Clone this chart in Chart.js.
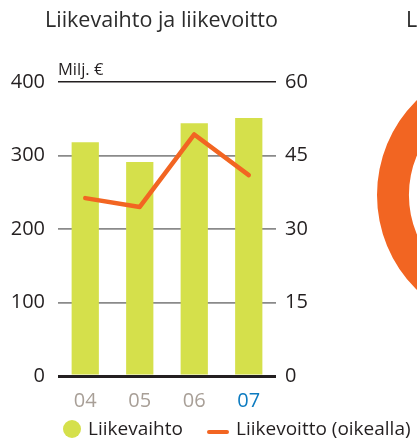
<!DOCTYPE html>
<html>
<head>
<meta charset="utf-8">
<script src="https://cdn.jsdelivr.net/npm/chart.js@4.4.1/dist/chart.umd.min.js"></script>
<style>
  html, body { margin: 0; padding: 0; width: 417px; height: 445px; overflow: hidden; background: #fff; }
  #main { position: absolute; left: 0; top: 0; }
  #ring { position: absolute; left: 377px; top: 62px; }
</style>
</head>
<body>
<canvas id="main" width="417" height="445"></canvas>
<canvas id="ring" width="266" height="266"></canvas>
<script>
// ---- Data ----
const categories = ['04', '05', '06', '07'];
const liikevaihto = [318, 291, 344, 351];      // left axis, Milj. €
const liikevoitto = [36.3, 34.5, 49.3, 41.0];  // right axis, Milj. €
const leftTicks = [0, 100, 200, 300, 400];
const rightTicks = [0, 15, 30, 45, 60];
const seriesLabels = ['Liikevaihto', 'Liikevoitto (oikealla)'];
const titleText = 'Liikevaihto ja liikevoitto';
const unitText = 'Milj. €';
const ringValues = [100];

const FONT = "'Open Sans', 'Noto Sans', sans-serif";
const GREEN = '#d5e04b';
const ORANGE = '#f26522';
const DARK = '#231f20';
const TICKGRAY = '#a89f97';
const BLUE = '#0c7bc0';

const overlay = {
  id: 'overlay',
  afterDraw(chart) {
    const ctx = chart.ctx;
    const area = chart.chartArea;
    ctx.save();
    ctx.fillStyle = '#2b2b2b';
    ctx.font = '21.5px ' + FONT;
    ctx.textBaseline = 'alphabetic';
    ctx.textAlign = 'left';
    ctx.fillText(titleText, 45, 26.5);
    ctx.fillText('L', 406, 26.5);

    ctx.fillStyle = DARK;
    ctx.font = '16.5px ' + FONT;
    ctx.fillText(unitText, area.left, area.top - 7);

    // legend
    const ly = 429;
    ctx.font = '19px ' + FONT;
    ctx.textBaseline = 'middle';
    ctx.fillStyle = GREEN;
    ctx.beginPath();
    ctx.arc(72, ly, 9, 0, Math.PI * 2);
    ctx.fill();
    ctx.fillStyle = DARK;
    ctx.fillText(seriesLabels[0], 88, ly + 1);
    ctx.strokeStyle = ORANGE;
    ctx.lineWidth = 4;
    ctx.lineCap = 'round';
    ctx.beginPath();
    ctx.moveTo(209, ly + 3);
    ctx.lineTo(227, ly + 3);
    ctx.stroke();
    ctx.fillText(seriesLabels[1], 236, ly + 1);
    ctx.restore();
  }
};

new Chart(document.getElementById('main'), {
  type: 'bar',
  data: {
    labels: categories,
    datasets: [
      {
        type: 'line',
        label: seriesLabels[1],
        data: liikevoitto,
        yAxisID: 'y1',
        borderColor: ORANGE,
        borderWidth: 4.5,
        pointRadius: 0,
        borderCapStyle: 'round',
        borderJoinStyle: 'round',
        tension: 0,
        order: 0
      },
      {
        type: 'bar',
        label: seriesLabels[0],
        data: liikevaihto,
        yAxisID: 'y',
        backgroundColor: GREEN,
        borderWidth: 0,
        categoryPercentage: 1,
        barPercentage: 0.5,
        order: 1
      }
    ]
  },
  options: {
    responsive: false,
    animation: false,
    layout: { padding: { top: 82, left: 0, right: 0, bottom: 0 } },
    plugins: { legend: { display: false }, tooltip: { enabled: false }, title: { display: false } },
    scales: {
      x: {
        grid: { display: false, drawTicks: false },
        border: { display: false },
        ticks: {
          padding: 13,
          font: { family: FONT, size: 20 },
          color: (c) => c.index === categories.length - 1 ? BLUE : TICKGRAY
        },
        afterFit(scale) { scale.height = 69; }
      },
      y: {
        position: 'left',
        min: 0, max: 400,
        afterBuildTicks(scale) { scale.ticks = leftTicks.map(v => ({ value: v })); },
        grid: {
          drawTicks: false,
          color: (c) => (c.tick && (c.tick.value === 0 || c.tick.value === 400)) ? DARK : '#8a8a8a',
          lineWidth: (c) => c.tick && c.tick.value === 0 ? 3 : (c.tick && c.tick.value === 400 ? 1.5 : 1.8)
        },
        border: { display: false },
        ticks: { padding: 13, color: DARK, font: { family: FONT, size: 20 } },
        afterFit(scale) { scale.width = 58; }
      },
      y1: {
        position: 'right',
        min: 0, max: 60,
        afterBuildTicks(scale) { scale.ticks = rightTicks.map(v => ({ value: v })); },
        grid: { display: false, drawTicks: false },
        border: { display: false },
        ticks: { padding: 9, color: DARK, font: { family: FONT, size: 20 } },
        afterFit(scale) { scale.width = 141; }
      }
    }
  },
  plugins: [overlay]
});

new Chart(document.getElementById('ring'), {
  type: 'doughnut',
  data: { labels: ['a'], datasets: [{ data: ringValues, backgroundColor: [ORANGE], borderWidth: 0 }] },
  options: {
    responsive: false,
    animation: false,
    cutout: '76%',
    layout: { padding: 0 },
    plugins: { legend: { display: false }, tooltip: { enabled: false } }
  }
});
</script>
</body>
</html>
